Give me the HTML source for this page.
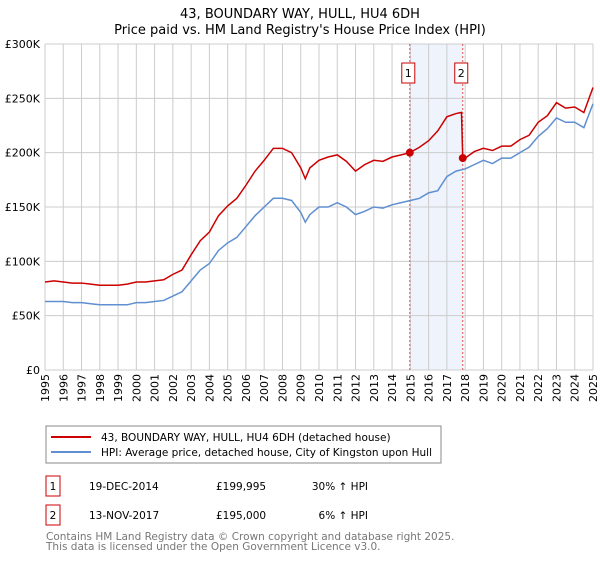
<!DOCTYPE html>
<html><head><meta charset="utf-8"><style>
body{margin:0;background:#fff;font-family:"DejaVu Sans","Liberation Sans",sans-serif;}
svg text{font-family:"DejaVu Sans","Liberation Sans",sans-serif;}
</style></head><body>
<svg id="c" width="600" height="560" viewBox="0 0 600 560">
<text x="300" y="18" text-anchor="middle" font-size="13">43, BOUNDARY WAY, HULL, HU4 6DH</text>
<text x="300" y="34" text-anchor="middle" font-size="13">Price paid vs. HM Land Registry's House Price Index (HPI)</text>
<g id="grid"></g><g id="series"></g>
<g>
<rect x="46" y="426" width="395" height="37" fill="#fff" stroke="#888"/>
<line x1="51" y1="437" x2="91" y2="437" stroke="#cc0000" stroke-width="2"/>
<text x="101" y="441" font-size="10.5">43, BOUNDARY WAY, HULL, HU4 6DH (detached house)</text>
<line x1="51" y1="452" x2="91" y2="452" stroke="#5f8fd0" stroke-width="2"/>
<text x="101" y="456" font-size="10.5">HPI: Average price, detached house, City of Kingston upon Hull</text>
</g>
<g font-size="10.5">
<rect x="46" y="476" width="14" height="20" fill="#fff" stroke="#cc0000"/><text x="53" y="490" text-anchor="middle">1</text>
<text x="89" y="490">19-DEC-2014</text><text x="216" y="490">£199,995</text><text x="368" y="490" text-anchor="end">30% ↑ HPI</text>
<rect x="46" y="505" width="14" height="20" fill="#fff" stroke="#cc0000"/><text x="53" y="519" text-anchor="middle">2</text>
<text x="89" y="519">13-NOV-2017</text><text x="216" y="519">£195,000</text><text x="368" y="519" text-anchor="end">6% ↑ HPI</text>
</g>
<text x="46" y="540" font-size="10.5" fill="#777">Contains HM Land Registry data © Crown copyright and database right 2025.</text>
<text x="46" y="550" font-size="10.5" fill="#777">This data is licensed under the Open Government Licence v3.0.</text>
</svg>
<script>
const hpiYears=[1995,1995.5,1996,1996.5,1997,1997.5,1998,1998.5,1999,1999.5,2000,2000.5,2001,2001.5,2002,2002.5,2003,2003.5,2004,2004.5,2005,2005.5,2006,2006.5,2007,2007.5,2008,2008.5,2009,2009.25,2009.5,2010,2010.5,2011,2011.5,2012,2012.5,2013,2013.5,2014,2014.5,2015,2015.5,2016,2016.5,2017,2017.5,2018,2018.5,2019,2019.5,2020,2020.5,2021,2021.5,2022,2022.5,2023,2023.5,2024,2024.5,2025];
const hpiValues=[63,63,63,62,62,61,60,60,60,60,62,62,63,64,68,72,82,92,98,110,117,122,132,142,150,158,158,156,145,136,143,150,150,154,150,143,146,150,149,152,154,156,158,163,165,178,183,185,189,193,190,195,195,200,205,215,222,232,228,228,223,245];
const propYears=[1995,1995.5,1996,1996.5,1997,1997.5,1998,1998.5,1999,1999.5,2000,2000.5,2001,2001.5,2002,2002.5,2003,2003.5,2004,2004.5,2005,2005.5,2006,2006.5,2007,2007.5,2008,2008.5,2009,2009.25,2009.5,2010,2010.5,2011,2011.5,2012,2012.5,2013,2013.5,2014,2014.5,2014.97,2015.5,2016,2016.5,2017,2017.5,2017.8,2017.87,2018,2018.5,2019,2019.5,2020,2020.5,2021,2021.5,2022,2022.5,2023,2023.5,2024,2024.5,2025];
const propValues=[81,82,81,80,80,79,78,78,78,79,81,81,82,83,88,92,106,119,127,142,151,158,170,183,193,204,204,200,186,176,186,193,196,198,192,183,189,193,192,196,198,200,205,211,220,233,236,237,195,195,201,204,202,206,206,212,216,228,234,246,241,242,237,260];
const sales=[{year:2014.97,value:199.995,label:"1"},{year:2017.87,value:195,label:"2"}];
const yTicks=[0,50,100,150,200,250,300];
const yTickLabels=["£0","£50K","£100K","£150K","£200K","£250K","£300K"];
const xTicks=[1995,1996,1997,1998,1999,2000,2001,2002,2003,2004,2005,2006,2007,2008,2009,2010,2011,2012,2013,2014,2015,2016,2017,2018,2019,2020,2021,2022,2023,2024,2025];

const X0=45,X1=593,Y0=370,Y1=44;
const xs=y=>X0+(y-1995)/30*(X1-X0);
const ys=v=>Y0-v/300*(Y0-Y1);
const NS="http://www.w3.org/2000/svg";
function mk(t,a,p){const e=document.createElementNS(NS,t);for(const k in a)e.setAttribute(k,a[k]);p.appendChild(e);return e;}
const g=document.getElementById('grid'),s=document.getElementById('series');
const band=mk('rect',{x:xs(sales[0].year),y:Y1,width:xs(sales[1].year)-xs(sales[0].year),height:Y0-Y1,fill:'#eef3fc'},g);


xTicks.forEach(t=>{
 const l=mk('line',{x1:xs(t),x2:xs(t),y1:Y1,y2:Y0,stroke:'#ccc'},g);
 
 
 const tx=mk('text',{transform:`translate(${xs(t)+4},374) rotate(-90)`,'text-anchor':'end','font-size':11},g);
 tx.textContent=t;
 
 
});
yTicks.forEach((t,i)=>{
 const l=mk('line',{x1:X0,x2:X1,y1:ys(t),y2:ys(t),stroke:'#ccc'},g);
 
 
 const tx=mk('text',{x:40,y:ys(t)+4,'text-anchor':'end','font-size':11},g);
 tx.textContent=yTickLabels[i];
 
 
});
sales.forEach(sl=>{
 const l=mk('line',{x1:xs(sl.year),x2:xs(sl.year),y1:Y1,y2:Y0,stroke:'#e05050','stroke-dasharray':'2,2'},g);
 
 
 const r=mk('rect',{x:xs(sl.year)-8,y:63,width:13,height:20,fill:'#fff',stroke:'#cc0000'},g);
 
 
 const tx=mk('text',{x:xs(sl.year)-1.5,y:77,'text-anchor':'middle','font-size':11},g);
 tx.textContent=sl.label;
 
 
});
const hp=mk('polyline',{points:hpiYears.map((y,i)=>xs(y)+','+ys(hpiValues[i])).join(' '),fill:'none',stroke:'#5f8fd0','stroke-width':1.5},s);


const pp=mk('polyline',{points:propYears.map((y,i)=>xs(y)+','+ys(propValues[i])).join(' '),fill:'none',stroke:'#cc0000','stroke-width':1.5},s);


sales.forEach(sl=>{
 const c=mk('circle',{cx:xs(sl.year),cy:ys(sl.value),r:4,fill:'#cc0000'},s);
 
 
});
</script>
</body></html>
